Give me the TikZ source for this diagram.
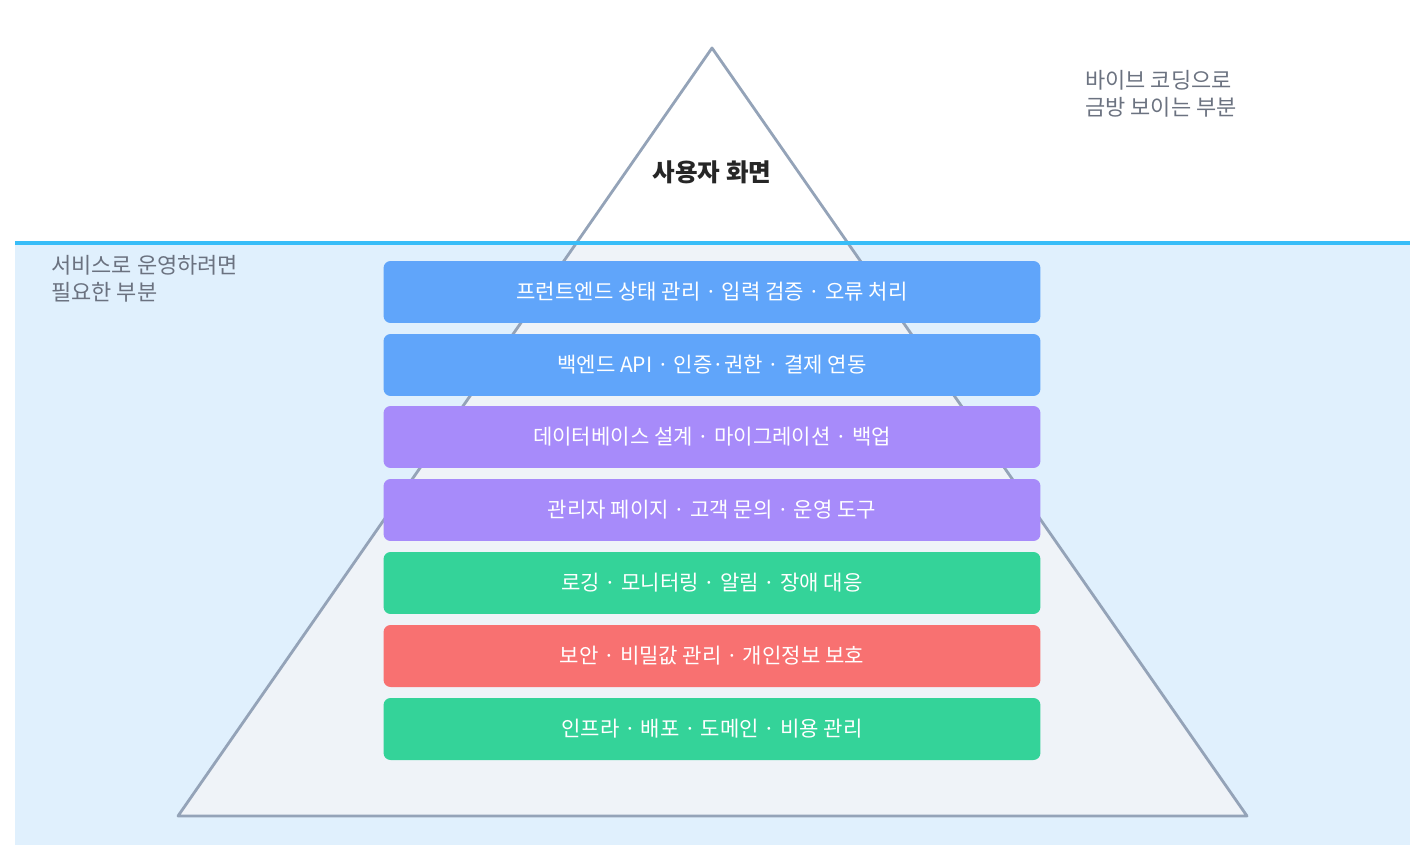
\documentclass[tikz,border=0pt]{standalone}
\usepackage{fontspec}
\setmainfont{Noto Sans CJK KR}
\definecolor{water}{HTML}{E0F0FD}
\definecolor{waterline}{HTML}{38BDF8}
\definecolor{tri}{HTML}{94A3B8}
\definecolor{trifill}{HTML}{EFF3F8}
\definecolor{sidegray}{HTML}{6B7280}
\definecolor{layblue}{HTML}{60A5FA}
\definecolor{laypurple}{HTML}{A78BFA}
\definecolor{laygreen}{HTML}{34D399}
\definecolor{layred}{HTML}{F87171}
\begin{document}
\begin{tikzpicture}[x=0.02cm, y=-0.02cm,
                    layer/.style = {rounded corners=4pt, minimum width=13.14cm, minimum height=1.24cm,
                                    text=white, font=\fontsize{12}{14}\selectfont, inner sep=0pt},
                    side/.style = {align=left, anchor=north west, text=sidegray,
                                   font=\fontsize{12.5}{15.5}\selectfont, inner sep=0pt}]
\useasboundingbox (0,0) rectangle (1425,861);

% water
\fill[water] (15,243) rectangle (1410,845);
\begin{scope}
  \clip (15,243) rectangle (1410,845);
  \fill[trifill] (712,48) -- (1247,816) -- (178,816) -- cycle;
\end{scope}
\draw[tri, line width=1.6pt, line join=round] (712,48) -- (1247,816) -- (178,816) -- cycle;
\draw[waterline, line width=2.2pt] (15,243) -- (1410,243);

% texts
\node[font=\bfseries\fontsize{14}{16}\selectfont, text=black!85] (title) at (712,172) {사용자 화면};
\node[side] (above) at (1085,70) {바이브 코딩으로\\금방 보이는 부분};
\node[side] (below) at (51,255) {서비스로 운영하려면\\필요한 부분};

% layers
\node[layer, fill=layblue]   (L1) at (712,292) {프런트엔드 상태 관리 · 입력 검증 · 오류 처리};
\node[layer, fill=layblue]   (L2) at (712,365) {백엔드 API · 인증·권한 · 결제 연동};
\node[layer, fill=laypurple] (L3) at (712,437) {데이터베이스 설계 · 마이그레이션 · 백업};
\node[layer, fill=laypurple] (L4) at (712,510) {관리자 페이지 · 고객 문의 · 운영 도구};
\node[layer, fill=laygreen]  (L5) at (712,583) {로깅 · 모니터링 · 알림 · 장애 대응};
\node[layer, fill=layred]    (L6) at (712,656) {보안 · 비밀값 관리 · 개인정보 보호};
\node[layer, fill=laygreen]  (L7) at (712,729) {인프라 · 배포 · 도메인 · 비용 관리};
\end{tikzpicture}
\end{document}
